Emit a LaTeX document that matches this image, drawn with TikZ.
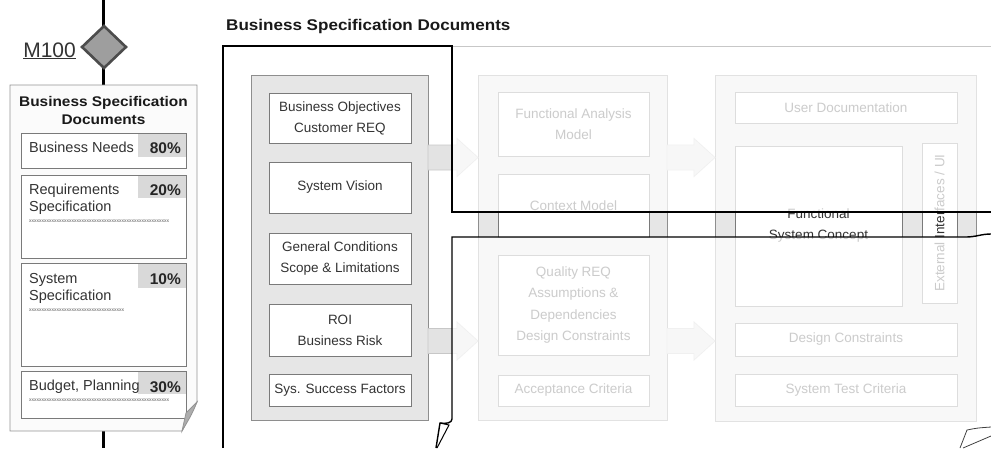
\documentclass[tikz,border=0pt]{standalone}
\usepackage{fontspec}
\setmainfont{Liberation Sans}
\newfontfamily\headfont[FakeStretch=1.1]{Liberation Sans}
\usetikzlibrary{shapes.geometric,calc}

\definecolor{txt}{HTML}{333333}
\definecolor{bord}{HTML}{7A7A7A}
\definecolor{lbord}{HTML}{949494}
\definecolor{cfill}{HTML}{E6E6E6}
\definecolor{pctfill}{HTML}{D9D9D9}

% block arrow from a start point on one container edge to a tip on the next
\newcommand\blockarrow[2]{%
  \draw[blockarr] ($(#1)+(0,-12.5)$) -- ($(#2)+(-21,-12.5)$) -- ($(#2)+(-21,-19)$)
    -- (#2) -- ($(#2)+(-21,19)$) -- ($(#2)+(-21,12.5)$) -- ($(#1)+(0,12.5)$) -- cycle;}

\begin{document}
\begin{tikzpicture}[x=1pt,y=-1pt,
  cont/.style={draw=bord!85, fill=cfill, line width=0.9pt, inner sep=0, outer sep=0},
  ibox/.style={draw=bord, fill=white, line width=0.9pt, inner sep=0, outer sep=0,
    text=txt, align=center, font=\fontsize{13.5}{21}\selectfont},
  lbox/.style={draw=bord, fill=white, line width=0.9pt, inner sep=0, outer sep=0},
  ltxt/.style={anchor=base west, inner sep=0, text=txt, font=\fontsize{14.5}{17}\selectfont},
  ptxt/.style={anchor=base east, inner sep=0, text=black!85, font=\bfseries\fontsize{15.5}{17}\selectfont},
  xtxt/.style={anchor=base west, inner sep=0, text=black!65, font=\fontsize{5}{6}\selectfont},
  frame/.style={line width=1.4pt, black},
  blockarr/.style={draw=black!22, fill=black!11, line width=0.8pt},
  thickline/.style={line width=3pt, black}
]
\useasboundingbox (0,0) rectangle (991,448);

% ---------- milestone and document checklist ----------
\coordinate (mtop) at (103.5,0);
\coordinate (mbot) at (103.5,448);
\node[minimum width=187, minimum height=346, inner sep=0, outer sep=0] (lb) at (103.5,258) {};
\draw[thickline] (mtop) -- (103.5,30);
\draw[thickline] (103.5,60) -- (lb.north);
\draw[thickline] (lb.south) -- (mbot);
\node[diamond, draw=black!70, fill=black!38, line width=2.6pt, minimum width=45,
      minimum height=43, inner sep=0] (dia) at (104,47) {};
\node[anchor=base east, inner sep=0, text=txt, font=\fontsize{21}{24}\selectfont] (m100) at (76,57) {\underline{M100}};

\draw[draw=lbord, fill=black!1.5, line width=0.9pt]
  (lb.north west) -- (lb.north east) -- (197,402) -- (182,431) -- (lb.south west) -- cycle;
\node[align=center, inner sep=0, text=black!90, font=\headfont\bfseries\fontsize{14}{18}\selectfont]
  (ltitle) at (103.5,110.5) {Business Specification\\Documents};

\node[lbox, minimum width=165, minimum height=35] (n1) at (103.5,150.5) {};
\node[lbox, minimum width=165, minimum height=83] (n2) at (103.5,216.5) {};
\node[lbox, minimum width=165, minimum height=103] (n3) at (103.5,314.5) {};
\node[lbox, minimum width=165, minimum height=47] (n4) at (103.5,394.5) {};
\fill[pctfill] ($(n1.north east)+(-48,0.5)$) rectangle ($(n1.north east)+(-0.5,24)$);
\fill[pctfill] ($(n2.north east)+(-48,0.5)$) rectangle ($(n2.north east)+(-0.5,23)$);
\fill[pctfill] ($(n3.north east)+(-48,0.5)$) rectangle ($(n3.north east)+(-0.5,25)$);
\fill[pctfill] ($(n4.north east)+(-48,0.5)$) rectangle ($(n4.north east)+(-0.5,23)$);

\node[ltxt] (t1) at (29,152) {Business Needs};
\node[ptxt] (p1) at (181,153) {80\%};
\node[ltxt] (t2a) at (29,194) {Requirements};
\node[ltxt] (t2b) at (29,211) {Specification};
\node[xtxt] (x2) at (29,222) {xxxxxxxxxxxxxxxxxxxxxxxxxxxxxxxxxxxxxxxxxxxxxxxxxxxxxxxx};
\node[ptxt] (p2) at (181,195) {20\%};
\node[ltxt] (t3a) at (29,283) {System};
\node[ltxt] (t3b) at (29,300) {Specification};
\node[xtxt] (x3) at (29,311) {xxxxxxxxxxxxxxxxxxxxxxxxxxxxxxxxxxxxxx};
\node[ptxt] (p3) at (181,284) {10\%};
\node[ltxt] (t4) at (29,390) {Budget, Planning};
\node[xtxt] (x4) at (29,401) {xxxxxxxxxxxxxxxxxxxxxxxxxxxxxxxxxxxxxxxxxxxxxxxxxxxxxxxx};
\node[ptxt] (p4) at (181,392) {30\%};

% turned-up corner of the checklist sheet
\draw[draw=lbord, fill=black!32, line width=0.8pt]
  (197,402) .. controls (192,414) .. (182,431) -- (186,413) -- cycle;

% ---------- document map ----------
\node[anchor=base west, inner sep=0, text=black!90, font=\headfont\bfseries\fontsize{15.5}{18}\selectfont]
  (title) at (226,30) {Business Specification Documents};

\node[cont, minimum width=177, minimum height=345] (c1) at (339.5,247.5) {};
\node[cont, minimum width=189, minimum height=345] (c2) at (572.5,247.5) {};
\node[cont, minimum width=261, minimum height=346] (c3) at (845.5,248) {};

\node[ibox, minimum width=142, minimum height=50] (b11) at (340,118) {Business Objectives\\Customer REQ};
\node[ibox, minimum width=142, minimum height=51] (b12) at (340,187.5) {System Vision};
\node[ibox, minimum width=142, minimum height=51] (b13) at (340,258.5) {General Conditions\\Scope \& Limitations};
\node[ibox, minimum width=142, minimum height=52] (b14) at (340,330) {ROI\\Business Risk};
\node[ibox, minimum width=142, minimum height=32] (b15) at (340,390) {Sys. Success Factors};

\node[ibox, minimum width=151, minimum height=64] (b21) at (573.5,124) {Functional Analysis\\Model};
\node[ibox, minimum width=151, minimum height=63] (b22) at (573.5,205.5) {Context Model};
\node[ibox, minimum width=151, minimum height=100, font=\fontsize{13.5}{21.5}\selectfont] (b23) at (573.5,305)
  {Quality REQ\\Assumptions \&\\Dependencies\\Design Constraints};
\node[ibox, minimum width=151, minimum height=31] (b24) at (573.5,390.5) {Acceptance Criteria};

\node[ibox, minimum width=222, minimum height=31] (b31) at (846,107.5) {User Documentation};
\node[ibox, minimum width=167, minimum height=160] (b32) at (818.5,226) {Functional\\System Concept};
\node[ibox, rotate=90, minimum width=160, minimum height=35] (b33) at (939.5,223) {External Interfaces / UI};
\node[ibox, minimum width=222, minimum height=33] (b34) at (846,339.5) {Design Constraints};
\node[ibox, minimum width=222, minimum height=32] (b35) at (846,390) {System Test Criteria};

\coordinate (a1s) at (c1.east |- 0,157.5);
\coordinate (a1t) at (c2.west |- 0,157.5);
\coordinate (a2s) at (c1.east |- 0,341);
\coordinate (a2t) at (c2.west |- 0,341);
\coordinate (a3s) at (c2.east |- 0,157.5);
\coordinate (a3t) at (c3.west |- 0,157.5);
\coordinate (a4s) at (c2.east |- 0,341);
\coordinate (a4t) at (c3.west |- 0,341);
\blockarrow{a1s}{a1t}
\blockarrow{a2s}{a2t}
\blockarrow{a3s}{a3t}
\blockarrow{a4s}{a4t}

% everything outside the selected strip is washed out
\fill[white, opacity=0.75] (452,44) rectangle (991,212) (452,237) rectangle (991,448);

% ---------- outline of the selected part ----------
\draw[black!22, line width=0.8pt] (452,46) -- (991,46);
\draw[frame] (223,448) -- (223,46) -- (452,46) -- (452,212) -- (991,212);
\draw[frame] (991,234) .. controls (981,234) and (976,237) .. (966,237) -- (452,237) -- (452,419)
  .. controls (452,423) and (446,424) .. (440,423) -- (436,448);
\draw[black, line width=1pt] (440,423) -- (449,425) -- (437,448);
\draw[black!75, line width=0.8pt] (960,448) -- (967,430) .. controls (977,428) .. (991,427);
\draw[black!75, line width=0.8pt] (963,448) -- (991,436);
\end{tikzpicture}
\end{document}
